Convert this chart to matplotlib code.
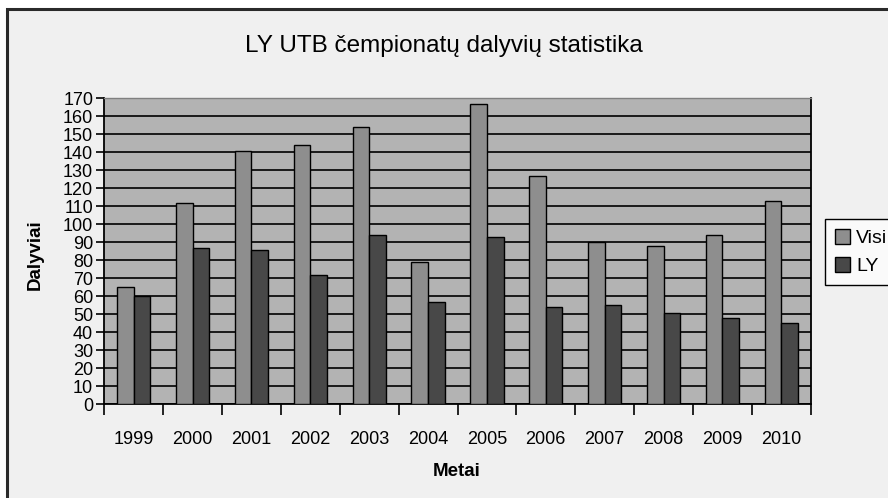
import matplotlib
matplotlib.use("Agg")
import matplotlib.pyplot as plt
from matplotlib.patches import Rectangle
import numpy as np

years = ["1999", "2000", "2001", "2002", "2003", "2004", "2005", "2006", "2007", "2008", "2009", "2010"]
visi = [65, 112, 141, 144, 154, 79, 167, 127, 90, 88, 94, 113]
ly = [60, 87, 86, 72, 94, 57, 93, 54, 55, 51, 48, 45]
yticks = list(range(0, 171, 10))

plt.rcParams['font.family'] = ['Liberation Sans', 'DejaVu Sans']

W, H = 888, 498
fig = plt.figure(figsize=(W / 100, H / 100), dpi=100, facecolor='white')

# chart frame
frame = Rectangle((7 / W, -0.1), 1.2, 1 - 9 / H + 0.1, transform=fig.transFigure,
                  facecolor='#f0f0f0', edgecolor='#2a2a2a', linewidth=2.2, zorder=-10)
fig.patches.append(frame)

ax = fig.add_axes([104.3 / W, 1 - 404.3 / H, (810.7 - 104.3) / W, (404.3 - 98.3) / H])
ax.set_facecolor('#b3b3b3')

x = np.arange(len(years)) + 0.5
bw = 0.283
ax.bar(x - bw / 2, visi, width=bw, color='#8e8e8e', edgecolor='black', linewidth=1.0, label='Visi', zorder=3)
ax.bar(x + bw / 2, ly, width=bw, color='#484848', edgecolor='black', linewidth=1.0, label='LY', zorder=3)

ax.set_xlim(0, len(years))
ax.set_ylim(0, 170)
ax.set_yticks(yticks)
ax.set_yticklabels([str(v) for v in yticks], fontsize=13)
ax.yaxis.grid(True, color='black', linewidth=1.2, zorder=1)
ax.set_axisbelow(True)

ax.set_xticks(np.arange(len(years) + 1))
ax.set_xticklabels([])
ax.set_xticks(x, minor=True)
ax.set_xticklabels(years, minor=True, fontsize=13)
ax.tick_params(axis='x', which='major', length=8, width=1.2, direction='out', color='black')
ax.tick_params(axis='x', which='minor', length=0, pad=19)
ax.tick_params(axis='y', length=6, width=1.2, direction='out', pad=2)

for s in ['left', 'bottom', 'right']:
    ax.spines[s].set_color('black')
    ax.spines[s].set_linewidth(1.3)
ax.spines['top'].set_color('#808080')
ax.spines['top'].set_linewidth(1.0)

fig.text(444 / W, 1 - 46 / H, 'LY UTB čempionatų dalyvių statistika', ha='center', va='center', fontsize=17.5)
fig.text(457 / W, 1 - 471 / H, 'Metai', ha='center', va='center', fontsize=13.5, fontweight='bold')
fig.text(35 / W, 1 - 255 / H, 'Dalyviai', ha='center', va='center', fontsize=13.5, fontweight='bold', rotation=90)

leg = fig.legend(loc='upper left', bbox_to_anchor=(825 / W, 1 - 219 / H), fontsize=14,
                 frameon=True, fancybox=False, edgecolor='black', facecolor='#fafafa',
                 handlelength=0.8, handleheight=0.8, handletextpad=0.3, borderpad=0.5,
                 labelspacing=0.5, borderaxespad=0)
leg.get_frame().set_linewidth(1.0)
leg.get_frame().set_alpha(1)

fig.savefig('out.png', dpi=100, facecolor=fig.get_facecolor())
